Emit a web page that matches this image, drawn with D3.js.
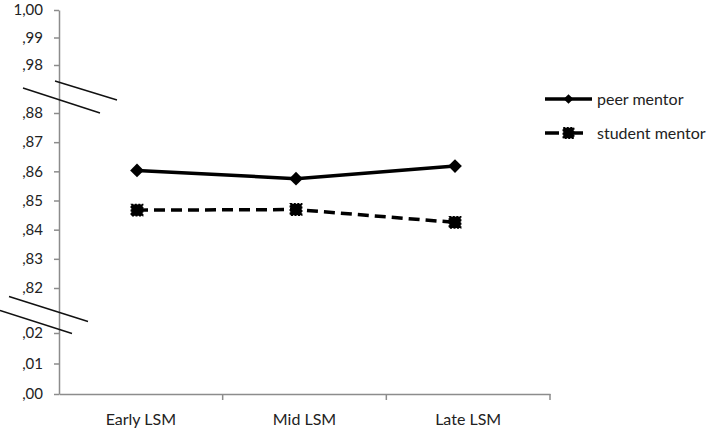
<!DOCTYPE html>
<html>
<head>
<meta charset="utf-8">
<script src="https://cdn.jsdelivr.net/npm/d3@7"></script>
<style>
  body { margin: 0; background: #fff; }
  text { font-family: Lato, "Open Sans", sans-serif; fill: #222; }
</style>
</head>
<body>
<div id="vis"></div>
<script>
// data
const categories = ['Early LSM', 'Mid LSM', 'Late LSM'];
const peerMentor = [0.8603, 0.8575, 0.8618];
const studentMentor = [0.8467, 0.8469, 0.8425];
const seriesNames = ['peer mentor', 'student mentor'];
const yTicks = [0, 0.01, 0.02, 0.82, 0.83, 0.84, 0.85, 0.86, 0.87, 0.88, 0.98, 0.99, 1.00];
const breaks = [0.93, 0.42];

const width = 709;
const height = 430;
const axisX = 59;

const svg = d3.select('#vis')
    .append('svg')
    .attr('width', width)
    .attr('height', height);

// broken y scale (piecewise)
const yScale = d3.scaleLinear()
    .domain([0, 0.02, 0.42, 0.82, 0.88, 0.93, 0.98, 1.00])
    .range([394, 333, 310.5, 288, 113, 89, 65, 10]);

// x scales: bands for axis, points for marks
const xBand = d3.scaleBand()
    .domain(categories)
    .range([axisX, 550]);

const xPoint = d3.scalePoint()
    .domain(categories)
    .range([137, 455]);

const fmt = v => v === 1 ? '1,00' : d3.format('.2f')(v).replace('0.', ',');

// y axis
const yAxis = d3.axisLeft(yScale)
    .tickValues(yTicks)
    .tickSize(5)
    .tickSizeOuter(0)
    .tickFormat(fmt);

const yg = svg.append('g')
    .attr('transform', `translate(${axisX},0)`)
    .call(yAxis);
yg.select('.domain').attr('stroke', '#8c8c8c').attr('stroke-width', 1.5);
yg.selectAll('.tick line').attr('stroke', '#8c8c8c').attr('stroke-width', 1.5);
yg.selectAll('.tick text')
    .attr('x', -16)
    .style('font-size', '15px')
    .style('font-family', 'Lato, sans-serif')
    .attr('fill', '#222');

// x axis
const xAxis = d3.axisBottom(xBand).tickSize(0);
const xg = svg.append('g')
    .attr('transform', `translate(0,${yScale(0)})`)
    .call(xAxis);
xg.select('.domain').attr('stroke', '#8c8c8c').attr('stroke-width', 1.5);
xg.selectAll('.tick text')
    .attr('dy', '1.72em')
    .style('font-size', '16px')
    .style('font-family', 'Lato, sans-serif')
    .attr('fill', '#222');

// tick marks between categories
const boundaries = categories.map(c => xBand(c)).concat([xBand.range()[1]]);
svg.append('g')
    .selectAll('line')
    .data(boundaries.slice(1))
    .join('line')
    .attr('x1', d => d)
    .attr('x2', d => d)
    .attr('y1', yScale(0))
    .attr('y2', yScale(0) + 6)
    .attr('stroke', '#8c8c8c')
    .attr('stroke-width', 1.5);

// break marks
const breakOffsets = [
    [[-4, -8, 58, 11], [-36, -1, 41, 24]],
    [[-50, -14, 29, 11], [-59, 0, 13, 23]]
];
breaks.forEach((b, i) => {
    const yb = yScale(b);
    breakOffsets[i].forEach(o => {
        svg.append('line')
            .attr('x1', axisX + o[0])
            .attr('y1', yb + o[1])
            .attr('x2', axisX + o[2])
            .attr('y2', yb + o[3])
            .attr('stroke', '#111')
            .attr('stroke-width', 1.4);
    });
});

// lines
const line = d3.line()
    .x((d, i) => xPoint(categories[i]))
    .y(d => yScale(d));

svg.append('path')
    .datum(peerMentor)
    .attr('d', line)
    .attr('fill', 'none')
    .attr('stroke', '#000')
    .attr('stroke-width', 3.5);

svg.append('path')
    .datum(studentMentor)
    .attr('d', line)
    .attr('fill', 'none')
    .attr('stroke', '#000')
    .attr('stroke-width', 3.5)
    .attr('stroke-dasharray', '11,6');

const diamond = d3.symbol().type(d3.symbolDiamond2).size(120);
const square = d3.symbol().type(d3.symbolSquare).size(130);

svg.append('g')
    .selectAll('path')
    .data(peerMentor)
    .join('path')
    .attr('d', diamond)
    .attr('transform', (d, i) => `translate(${xPoint(categories[i])},${yScale(d)})`)
    .attr('fill', '#000');

svg.append('g')
    .selectAll('path')
    .data(studentMentor)
    .join('path')
    .attr('d', square)
    .attr('transform', (d, i) => `translate(${xPoint(categories[i])},${yScale(d)})`)
    .attr('fill', '#000')
    .attr('stroke', '#000')
    .attr('stroke-width', 1.5)
    .attr('stroke-dasharray', '2,1.5');

// legend
const legend = svg.append('g')
    .selectAll('g')
    .data(seriesNames)
    .join('g')
    .attr('transform', (d, i) => `translate(545,${99 + i * 34})`);

legend.append('line')
    .attr('x1', 0)
    .attr('x2', 47)
    .attr('stroke', '#000')
    .attr('stroke-width', 3.5)
    .attr('stroke-dasharray', (d, i) => i === 0 ? null : '14,10');

legend.append('path')
    .attr('d', (d, i) => i === 0 ? d3.symbol().type(d3.symbolDiamond2).size(60)() : d3.symbol().type(d3.symbolSquare).size(110)())
    .attr('transform', 'translate(23.5,0)')
    .attr('fill', '#000')
    .attr('stroke', '#000')
    .attr('stroke-width', (d, i) => i === 0 ? 0 : 1.5)
    .attr('stroke-dasharray', '2,1.5');

legend.append('text')
    .attr('x', 52)
    .attr('dy', '0.35em')
    .style('font-size', '16px')
    .text(d => d);
</script>
</body>
</html>
